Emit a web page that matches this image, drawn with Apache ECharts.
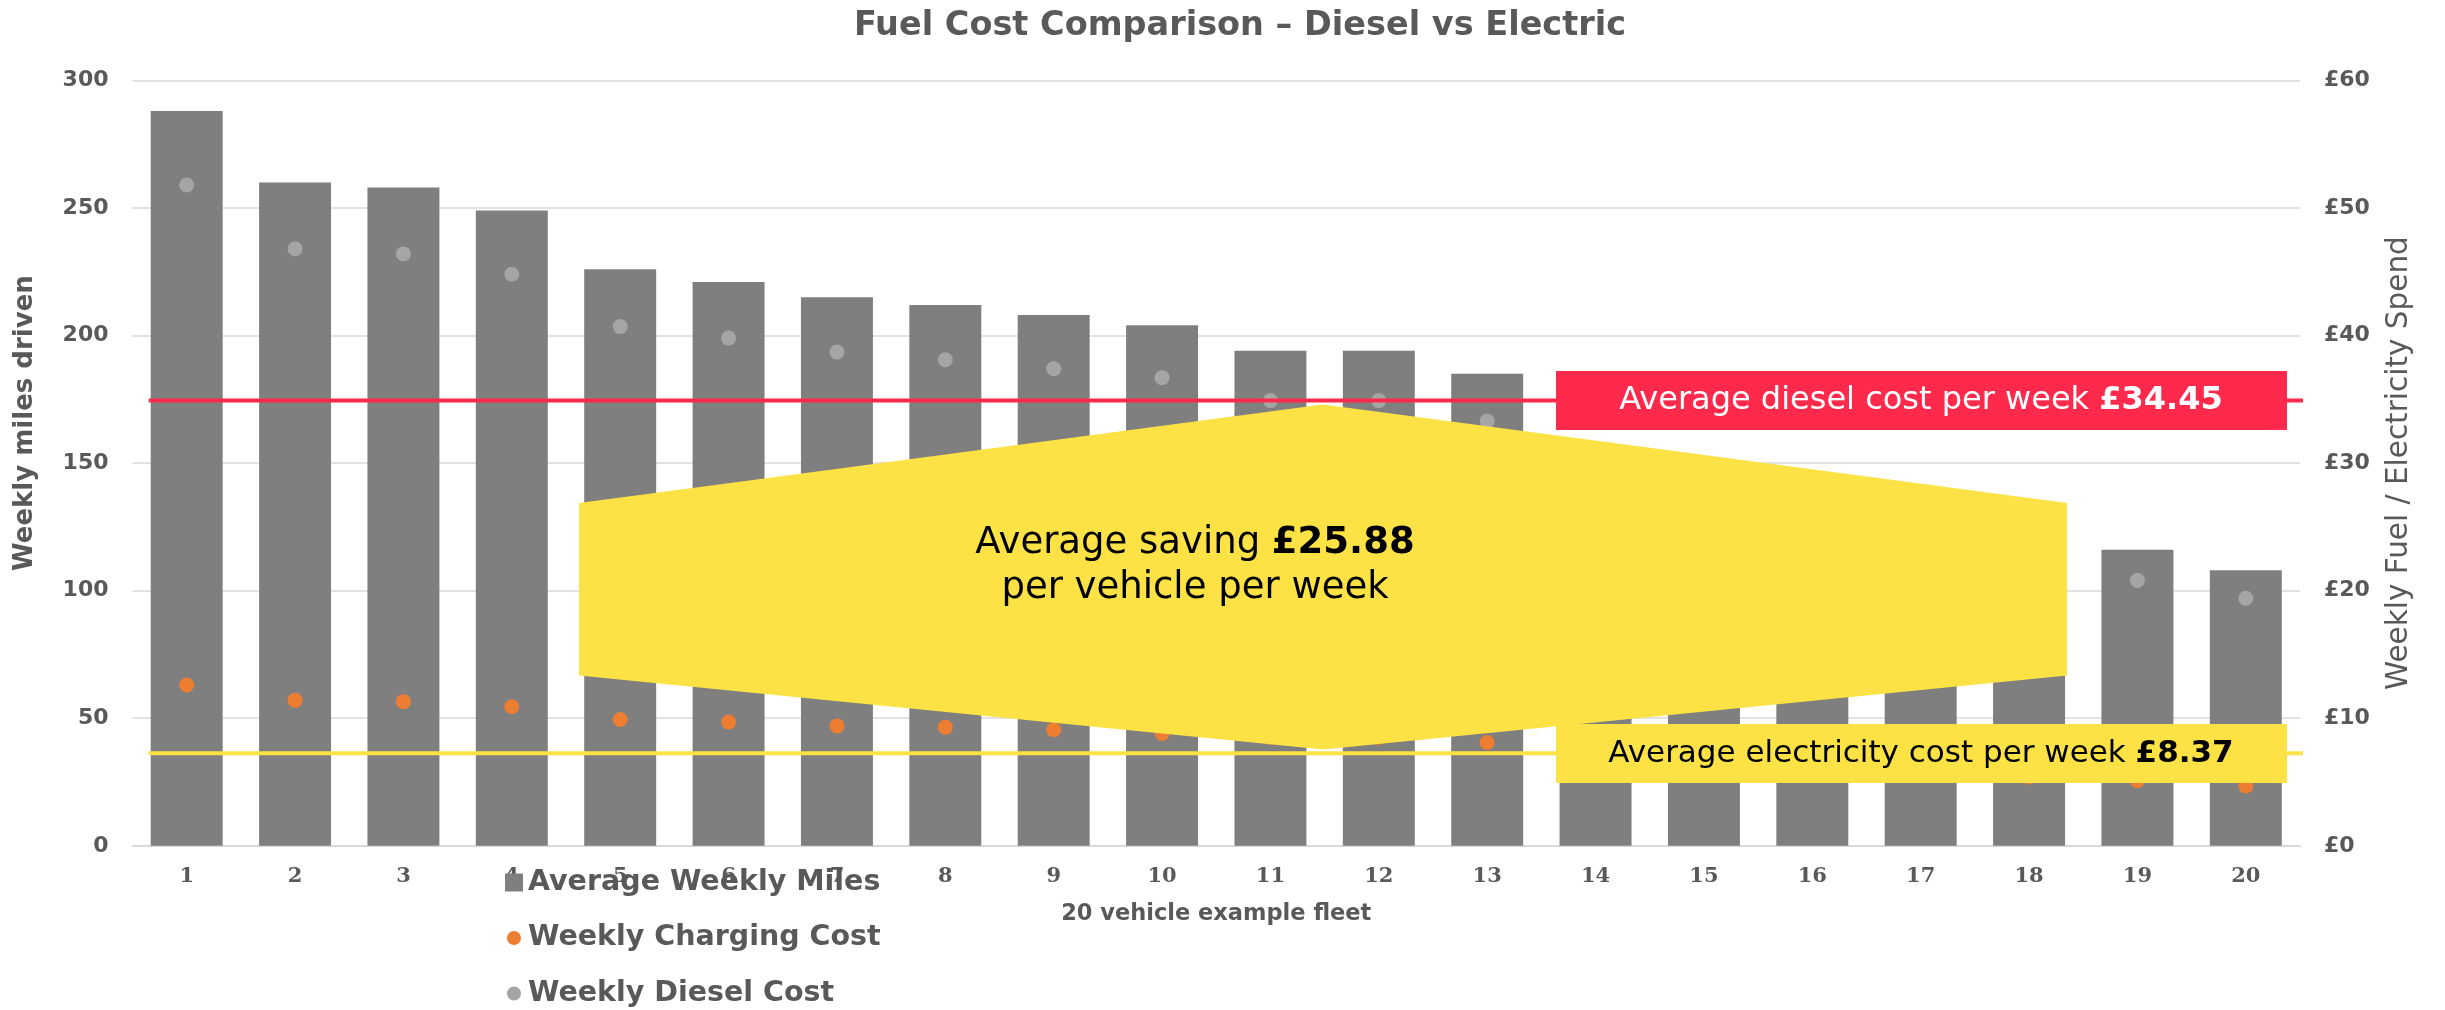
<!DOCTYPE html>
<html>
<head>
<meta charset="utf-8">
<script src="https://cdn.jsdelivr.net/npm/echarts@6/dist/echarts.min.js"></script>
<style>
html,body{margin:0;padding:0;background:#fff;}
#chart{width:2445px;height:1010px;}
</style>
</head>
<body>
<div id="chart"></div>
<script>
// ---- data ----
const categories = ['1','2','3','4','5','6','7','8','9','10','11','12','13','14','15','16','17','18','19','20'];
const weeklyMiles = [288, 260, 258, 249, 226, 221, 215, 212, 208, 204, 194, 194, 185, 155, 145, 137, 129, 124, 116, 108];
const weeklyChargingCost = [12.6, 11.4, 11.3, 10.9, 9.9, 9.7, 9.4, 9.3, 9.1, 8.8, 8.5, 8.5, 8.1, 6.8, 6.4, 6.0, 5.7, 5.4, 5.1, 4.7];
const weeklyDieselCost = [51.8, 46.8, 46.4, 44.8, 40.7, 39.8, 38.7, 38.1, 37.4, 36.7, 34.9, 34.9, 33.3, 27.9, 26.1, 24.7, 23.2, 22.3, 20.8, 19.4];
const milesTicks = [0, 50, 100, 150, 200, 250, 300];
const costTicks = [0, 10, 20, 30, 40, 50, 60];
const avgDieselCost = 34.45;      // label value
const avgElectricityCost = 8.37;  // label value
const avgSaving = 25.88;          // label value
const dieselLineLevel = [34.9];   // level of red line as drawn
const electricityLineLevel = [7.25]; // level of yellow line as drawn
const seriesNames = ['Average Weekly Miles', 'Weekly Charging Cost', 'Weekly Diesel Cost'];

// ---- styles ----
const GREY_TEXT = '#595959';
const RED = '#ff2a4b';
const YELLOW = '#fce244';
const FONT = 'DejaVu Sans';
const circleIcon = 'path://M0,0M18,18M9,2A7,7,0,1,1,8.99,2Z';

const chart = echarts.init(document.getElementById('chart'), null, {renderer: 'canvas'});

function levelLine(level, color) {
  return {
    type: 'line', xAxisIndex: 1, yAxisIndex: 1,
    data: [[-0.35, level], [20.03, level]],
    symbol: 'none', clip: false, silent: true, z: 5,
    lineStyle: {color: color, width: 4},
    animation: false
  };
}

const option = {
  animation: false,
  backgroundColor: '#ffffff',
  title: {
    text: 'Fuel Cost Comparison \u2013 Diesel vs Electric',
    left: 1240, top: 9, textAlign: 'center', padding: 0,
    textStyle: {fontFamily: FONT, fontSize: 33.5, fontWeight: 'bold', color: GREY_TEXT}
  },
  legend: {
    orient: 'vertical', left: 505, top: 868, padding: 0,
    itemWidth: 18, itemHeight: 18, itemGap: 26.5,
    textStyle: {fontFamily: FONT, fontSize: 28.5, fontWeight: 'bold', color: GREY_TEXT, lineHeight: 28},
    data: [
      {name: seriesNames[0], icon: 'rect'},
      {name: seriesNames[1], icon: circleIcon},
      {name: seriesNames[2], icon: circleIcon}
    ]
  },
  grid: {left: 132.5, right: 145, top: 80.4, bottom: 164.2, containLabel: false},
  xAxis: [
    {
      type: 'category', data: categories, boundaryGap: true,
      name: '20 vehicle example fleet', nameLocation: 'middle', nameGap: 57,
      nameTextStyle: {fontFamily: FONT, fontSize: 22.5, fontWeight: 'bold', color: GREY_TEXT},
      axisLine: {show: true, lineStyle: {color: '#d9d9d9', width: 2}},
      axisTick: {show: false},
      axisLabel: {fontFamily: 'DejaVu Serif', fontSize: 21, fontWeight: 'bold', color: GREY_TEXT, margin: 20}
    },
    {type: 'value', min: -0.5, max: 19.5, show: false}
  ],
  yAxis: [
    {
      type: 'value', position: 'left',
      min: milesTicks[0], max: milesTicks[milesTicks.length - 1], interval: milesTicks[1] - milesTicks[0],
      name: 'Weekly miles driven', nameLocation: 'middle', nameGap: 94, nameRotate: 90,
      nameTextStyle: {fontFamily: FONT, fontSize: 26, fontWeight: 'bold', color: GREY_TEXT, padding: [0, 0, 0, 80]},
      axisLine: {show: false}, axisTick: {show: false},
      axisLabel: {fontFamily: FONT, fontSize: 22, fontWeight: 'bold', color: GREY_TEXT, margin: 24},
      splitLine: {show: true, lineStyle: {color: '#d9d9d9', width: 1.5}}
    },
    {
      type: 'value', position: 'right',
      min: costTicks[0], max: costTicks[costTicks.length - 1], interval: costTicks[1] - costTicks[0],
      name: 'Weekly Fuel / Electricity Spend', nameLocation: 'middle', nameGap: 84, nameRotate: 90,
      nameTextStyle: {fontFamily: FONT, fontSize: 29.5, fontWeight: 'normal', color: GREY_TEXT},
      axisLine: {show: false}, axisTick: {show: false},
      axisLabel: {fontFamily: FONT, fontSize: 22, fontWeight: 'bold', color: GREY_TEXT, margin: 24,
                  formatter: v => '\u00a3' + v},
      splitLine: {show: false}
    }
  ],
  series: [
    {
      name: seriesNames[0], type: 'bar', xAxisIndex: 0, yAxisIndex: 0,
      data: weeklyMiles, barCategoryGap: '33.6%', z: 2,
      itemStyle: {color: '#7f7f7f'}
    },
    {
      name: seriesNames[1], type: 'scatter', xAxisIndex: 0, yAxisIndex: 1,
      data: weeklyChargingCost, symbol: 'circle', symbolSize: 15, z: 3,
      itemStyle: {color: '#ed7d31', opacity: 1}
    },
    {
      name: seriesNames[2], type: 'scatter', xAxisIndex: 0, yAxisIndex: 1,
      data: weeklyDieselCost, symbol: 'circle', symbolSize: 15, z: 3,
      itemStyle: {color: '#a5a5a5', opacity: 1}
    },
    levelLine(dieselLineLevel[0], RED),
    levelLine(electricityLineLevel[0], YELLOW)
  ],
  graphic: [
    {
      type: 'polygon', z: 100, silent: true,
      shape: {points: [[579, 503], [1323, 404.5], [2067, 503], [2067, 675.5], [1323, 749.5], [579, 675.5]]},
      style: {fill: YELLOW}
    },
    {
      type: 'text', z: 101, silent: true, x: 1195, y: 566,
      style: {
        text: 'Average saving {b|\u00a3' + avgSaving.toFixed(2) + '}\nper vehicle per week',
        fontFamily: FONT, fontSize: 37, lineHeight: 45, fill: '#000000',
        align: 'center', verticalAlign: 'middle',
        rich: {b: {fontFamily: FONT, fontSize: 37, lineHeight: 45, fontWeight: 'bold', fill: '#000000'}}
      }
    },
    {
      type: 'rect', z: 100, silent: true,
      shape: {x: 1556, y: 371, width: 731, height: 59},
      style: {fill: RED}
    },
    {
      type: 'text', z: 101, silent: true, x: 1921, y: 400.5,
      style: {
        text: 'Average diesel cost per week {b|\u00a3' + avgDieselCost.toFixed(2) + '}',
        fontFamily: FONT, fontSize: 32, fill: '#ffffff', align: 'center', verticalAlign: 'middle',
        rich: {b: {fontFamily: FONT, fontSize: 32, fontWeight: 'bold', fill: '#ffffff'}}
      }
    },
    {
      type: 'rect', z: 100, silent: true,
      shape: {x: 1556, y: 724, width: 731, height: 59},
      style: {fill: YELLOW}
    },
    {
      type: 'text', z: 101, silent: true, x: 1921, y: 754,
      style: {
        text: 'Average electricity cost per week {b|\u00a3' + avgElectricityCost.toFixed(2) + '}',
        fontFamily: FONT, fontSize: 31, fill: '#000000', align: 'center', verticalAlign: 'middle',
        rich: {b: {fontFamily: FONT, fontSize: 31, fontWeight: 'bold', fill: '#000000'}}
      }
    }
  ]
};
chart.setOption(option);
</script>
</body>
</html>
